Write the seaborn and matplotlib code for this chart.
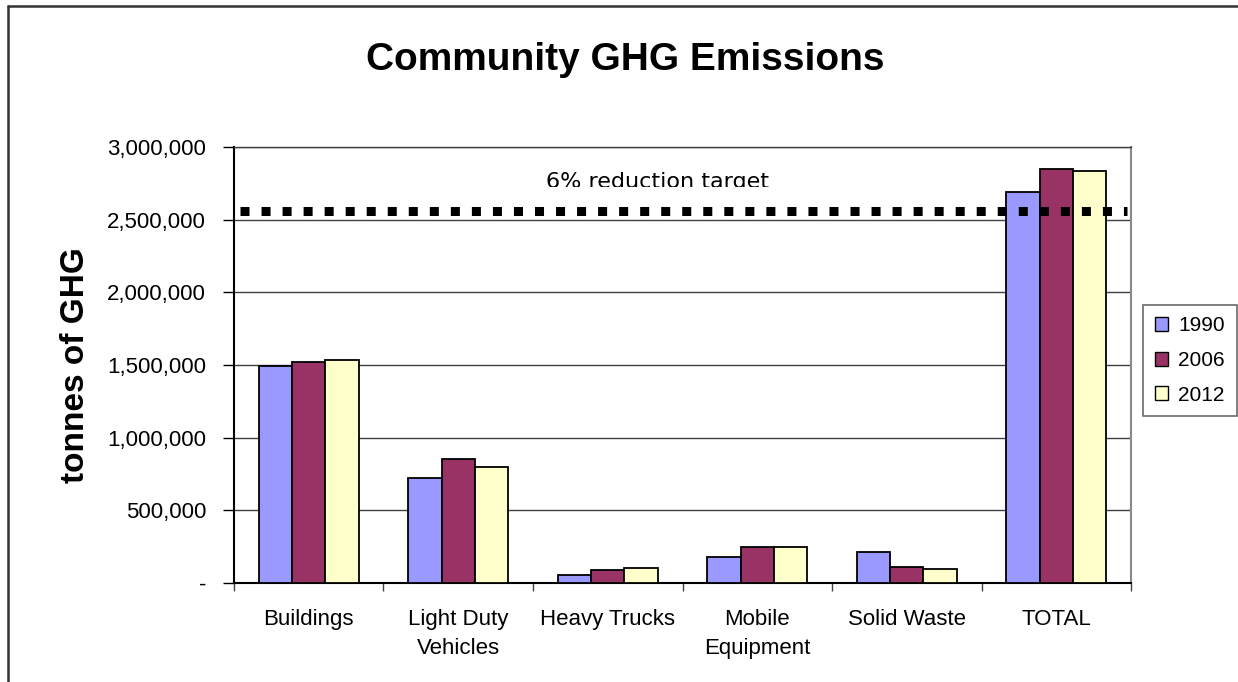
import numpy as np
import pandas as pd
import seaborn as sns
import matplotlib.pyplot as plt
from matplotlib.lines import Line2D
from matplotlib.transforms import Bbox, TransformedBbox

categories = ["Buildings", "Light Duty\nVehicles", "Heavy Trucks", "Mobile\nEquipment", "Solid Waste", "TOTAL"]
years = ["1990", "2006", "2012"]
em_1990 = [1495000, 722000, 55000, 180000, 213000, 2690000]
em_2006 = [1520000, 853000, 88000, 248000, 110000, 2849000]
em_2012 = [1535000, 800000, 100000, 248000, 98000, 2835000]
target = 2557000
target_label = "6% reduction target"
yticks = [0, 500000, 1000000, 1500000, 2000000, 2500000, 3000000]
ytick_labels = ["-", "500,000", "1,000,000", "1,500,000", "2,000,000", "2,500,000", "3,000,000"]
colors = {"1990": "#9999FF", "2006": "#993366", "2012": "#FFFFCC"}

df = pd.DataFrame({
    "category": categories * 3,
    "year": [y for y in years for _ in categories],
    "tonnes": em_1990 + em_2006 + em_2012,
})

sns.set_style("white")
plt.rcParams["font.family"] = ["Liberation Sans", "DejaVu Sans"]
plt.rcParams["text.color"] = "black"
plt.rcParams["axes.labelcolor"] = "black"
plt.rcParams["xtick.color"] = "black"
plt.rcParams["ytick.color"] = "black"

fig = plt.figure(figsize=(12.38, 6.82), dpi=100)
ax = fig.add_axes([0.189, 0.1452, 0.7246, 0.6393])

sns.barplot(data=df, x="category", y="tonnes", hue="year", palette=colors,
            width=0.67, edgecolor="black", linewidth=1.3, saturation=1, ax=ax, zorder=3)

ax.set_ylim(0, 3000000)
ax.set_xlim(-0.5, len(categories) - 0.5)
ax.set_yticks(yticks)
ax.set_yticklabels(ytick_labels, fontsize=16)
ax.yaxis.grid(True, color="#404040", linewidth=1.0, zorder=0)
ax.set_axisbelow(True)

# ticks between categories, labels at centers
ax.set_xticks(np.arange(-0.5, len(categories), 1.0))
ax.set_xticklabels([])
ax.set_xticks(np.arange(len(categories)), minor=True)
ax.set_xticklabels(categories, minor=True, fontsize=16, linespacing=1.5)
ax.tick_params(axis="x", which="major", direction="out", length=6, width=1, color="#444444", bottom=True)
ax.tick_params(axis="x", which="minor", length=0, pad=19)
ax.tick_params(axis="y", direction="out", length=8, width=1, color="black", left=True, pad=12)

for side in ["left", "bottom"]:
    ax.spines[side].set_color("black")
    ax.spines[side].set_linewidth(1.5)
ax.spines["top"].set_color("#404040")
ax.spines["right"].set_color("#888888")
ax.spines["top"].set_linewidth(1.0)
ax.spines["right"].set_linewidth(1.5)

ax.set_xlabel("")
ax.set_ylabel("tonnes of GHG", fontsize=24, fontweight="bold", labelpad=12)

# reduction target line
ax.hlines(target, -0.46, len(categories) - 0.53, colors="black", linewidth=6.5,
          linestyles=(0, (1.0, 1.33)), zorder=5)
t = ax.text(0.4716, 0.906, target_label, transform=ax.transAxes, ha="center", va="baseline",
            fontsize=16, family="DejaVu Sans", color="black", zorder=6)
t.set_clip_box(TransformedBbox(Bbox([[0, 1 - 186.5 / 682], [1, 1]]), fig.transFigure))
t.set_clip_on(True)

fig.text(625 / 1238, 1 - 60 / 682, "Community GHG Emissions", ha="center", va="center",
         fontsize=28, fontweight="bold", color="black")

leg = ax.legend(loc="upper left", bbox_to_anchor=(1.0134, 0.6376), borderaxespad=0,
                fontsize=15, frameon=True, fancybox=False, handlelength=0.65, handleheight=0.65,
                handletextpad=0.5, labelspacing=0.75, borderpad=0.55)
leg.get_frame().set_edgecolor("#444444")
leg.get_frame().set_linewidth(1.2)
for h in leg.legend_handles:
    h.set_edgecolor("black")
    h.set_linewidth(1.0)

# outer chart frame (left and top edges visible)
fig.add_artist(Line2D([8 / 1238, 8 / 1238], [0, 1 - 6 / 682], transform=fig.transFigure,
                      color="#333333", linewidth=1.8))
fig.add_artist(Line2D([8 / 1238, 1], [1 - 6 / 682, 1 - 6 / 682], transform=fig.transFigure,
                      color="#333333", linewidth=1.8))

fig.savefig("out.png", dpi=100)
